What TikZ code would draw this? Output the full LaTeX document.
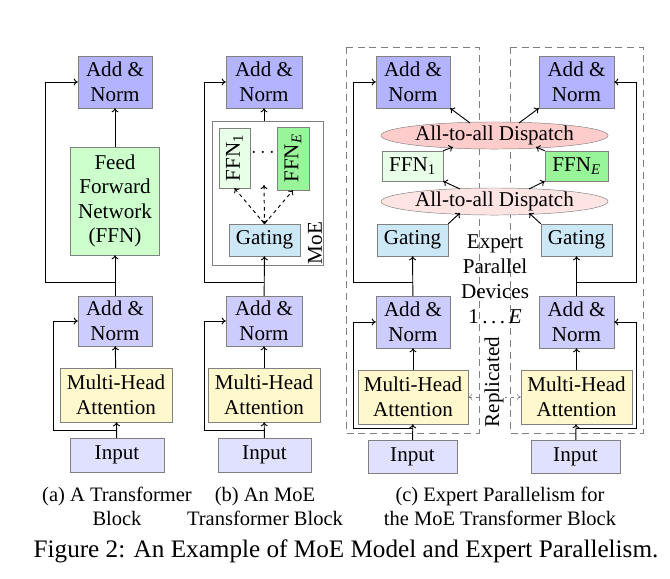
\documentclass[tikz,border=0pt]{standalone}
\usepackage{fontspec}
\setmainfont{Liberation Serif}
\usetikzlibrary{shapes.geometric,arrows.meta}
\definecolor{anD}{HTML}{B3B3FF}
\definecolor{anL}{HTML}{CCCCFF}
\definecolor{ffn}{HTML}{CCFFCC}
\definecolor{ffnL}{HTML}{E8FFE8}
\definecolor{ffnD}{HTML}{99F599}
\definecolor{mha}{HTML}{FFF8CC}
\definecolor{inp}{HTML}{E0E0FF}
\definecolor{gat}{HTML}{CCE8F7}
\definecolor{dispD}{HTML}{FFCCCC}
\definecolor{dispL}{HTML}{FFE4E4}
\begin{document}
\begin{tikzpicture}[x=0.03cm,y=-0.03cm,
  bx/.style n args={3}{draw=gray,fill=#1,minimum width=#2*0.03cm,minimum height=#3*0.03cm,inner sep=0pt,align=center,font=\fontsize{18}{21}\selectfont},
  el/.style={ellipse,draw=gray,fill=#1,minimum width=227*0.03cm,minimum height=26*0.03cm,inner sep=0pt,font=\fontsize{18}{21}\selectfont},
  ar/.style={-{To[length=3.5pt,width=6pt]},thick},
  dar/.style={{To[length=3.5pt,width=6pt]}-{To[length=3.5pt,width=6pt]}},
  dsh/.style={draw=gray,thick,dash pattern=on 6pt off 4pt},
  capt/.style={align=center,font=\fontsize{17.5}{20.5}\selectfont}]
\useasboundingbox (0,0) rectangle (670,578);
% (a)
\node[bx={anD}{74}{52}] (a1) at (115,82) {Add \&\\Norm};
\node[bx={ffn}{89}{108}] (af) at (115,201) {Feed\\Forward\\Network\\(FFN)};
\node[bx={anL}{74}{50}] (a2) at (115,321) {Add \&\\Norm};
\node[bx={mha}{112}{54}] (am) at (116,395) {Multi-Head\\Attention};
\node[bx={inp}{94}{34}] (ai) at (117,455) {Input};
\draw[ar] (ai) -- (am); \draw[ar] (am) -- (a2); \draw[ar] (a2) -- (af); \draw[ar] (af) -- (a1);
\coordinate (ar1) at (116,430); \coordinate (ar2) at (116,282);
\draw[ar] (ar1) -| (53,321) -- (a2.west);
\draw[ar] (ar2) -| (45,82) -- (a1.west);
% (b)
\node[draw=gray,thick,minimum width=111*0.03cm,minimum height=144*0.03cm] (moe) at (267.5,193) {};
\node[rotate=90,font=\fontsize{18}{21}\selectfont] (moel) at (315,243) {MoE};
\node[bx={anD}{76}{52}] (b1) at (264,82) {Add \&\\Norm};
\node[bx={ffnL}{31}{60},rotate=90,minimum width=60*0.03cm,minimum height=31*0.03cm] (bf1) at (234.5,158) {FFN\textsubscript{1}};
\node[bx={ffnD}{32}{63},rotate=90,minimum width=63*0.03cm,minimum height=32*0.03cm] (bfe) at (293,158.5) {FFN\textsubscript{\textit{E}}};
\node[font=\fontsize{18}{21}\selectfont] (dots) at (263,153) {$\cdots$};
\node[bx={gat}{71}{32}] (bg) at (264.5,240) {Gating};
\node[bx={anL}{76}{50}] (b2) at (264,321) {Add \&\\Norm};
\node[bx={mha}{112}{54}] (bm) at (264,395) {Multi-Head\\Attention};
\node[bx={inp}{93}{34}] (bi) at (264.5,455) {Input};
\draw[ar] (bi) -- (bm); \draw[ar] (bm) -- (b2); \draw[ar] (b2) -- (bg);
\draw[ar] (moe.north -| b1) -- (b1);
\draw[ar,dashed] (bg.north) -- (bf1.west);
\draw[ar,dashed] (bg.north) -- (bfe.west);
\coordinate (bup) at (264,185);
\draw[dar,thick,dashed] (bup) -- (bg.north);
\coordinate (br1) at (264,430); \coordinate (br2) at (264,282);
\draw[ar] (br1) -| (204,321) -- (b2.west);
\draw[ar] (br2) -| (204,82) -- (b1.west);
% (c) dashed boxes
\draw[dsh] (346,47) rectangle (479,433);
\draw[dsh] (510,47) rectangle (643,433);
\node[bx={anD}{74}{52}] (c1) at (413,82) {Add \&\\Norm};
\node[bx={anD}{75}{52}] (d1) at (576.5,82) {Add \&\\Norm};
\node[el=dispD] (dt) at (494.5,135.5) {All-to-all Dispatch};
\node[bx={ffnL}{61}{30}] (cf) at (412.5,166) {FFN\textsubscript{1}};
\node[bx={ffnD}{63}{30}] (df) at (576.5,166) {FFN\textsubscript{\textit{E}}};
\node[el=dispL] (db) at (494.5,201.5) {All-to-all Dispatch};
\node[bx={gat}{71}{32}] (cg) at (412.5,240) {Gating};
\node[bx={gat}{71}{32}] (dg) at (576.5,240) {Gating};
\node[align=center,font=\fontsize{18}{21.3}\selectfont] (ep) at (495,279) {Expert\\Parallel\\Devices\\1\,.\,.\,.\,\textit{E}};
\node[bx={anL}{74}{52}] (c2) at (413,322) {Add \&\\Norm};
\node[bx={anL}{75}{52}] (d2) at (576.5,322) {Add \&\\Norm};
\node[bx={mha}{110}{54}] (cm) at (413,397) {Multi-Head\\Attention};
\node[bx={mha}{111}{54}] (dm) at (576.5,397) {Multi-Head\\Attention};
\node[bx={inp}{89}{33}] (ci) at (412.5,456.5) {Input};
\node[bx={inp}{89}{33}] (di) at (575.5,456.5) {Input};
\draw[dar,gray,dashed] (cm.east) -- (dm.west);
\node[rotate=90,fill=white,inner sep=1pt,font=\fontsize{18}{21}\selectfont] (rep) at (494,382) {Replicated};
\foreach \s in {c,d}{
  \draw[ar] (\s i) -- (\s m); \draw[ar] (\s m) -- (\s 2); \draw[ar] (\s 2) -- (\s g);}
\coordinate (cb1) at (460,213); \coordinate (db1) at (529,213);
\coordinate (cb2) at (460,189); \coordinate (db2) at (529,189);
\coordinate (ct1) at (453,147); \coordinate (dt1) at (536,147);
\coordinate (ct2) at (470,123); \coordinate (dt2) at (519,123);
\draw[ar] (cg.north east) -- (cb1);
\draw[ar] (dg.north west) -- (db1);
\draw[ar] (cb2) -- (cf.south east);
\draw[ar] (db2) -- (df.south west);
\draw[ar] (cf.north east) -- (ct1);
\draw[ar] (df.north west) -- (dt1);
\draw[ar] (ct2) -- (c1.south east);
\draw[ar] (dt2) -- (d1.south west);
\coordinate (cr1) at (413,428); \coordinate (cr2) at (413,282);
\coordinate (dr1) at (576,428); \coordinate (dr2) at (576,282);
\draw[ar] (cr1) -| (353,322) -- (c2.west);
\draw[ar] (cr2) -| (353,82) -- (c1.west);
\draw[ar] (dr1) -| (636,322) -- (d2.east);
\draw[ar] (dr2) -| (636,82) -- (d1.east);
% captions
\node[capt] (ca) at (117,506) {(a) A Transformer\\Block};
\node[capt] (cb) at (265,506) {(b) An MoE\\Transformer Block};
\node[capt] (cc) at (500,506) {(c) Expert Parallelism for\\the MoE Transformer Block};
\node[font=\fontsize{21.5}{24}\selectfont] (fig) at (346,551) {Figure 2: An Example of MoE Model and Expert Parallelism.};
\end{tikzpicture}
\end{document}
